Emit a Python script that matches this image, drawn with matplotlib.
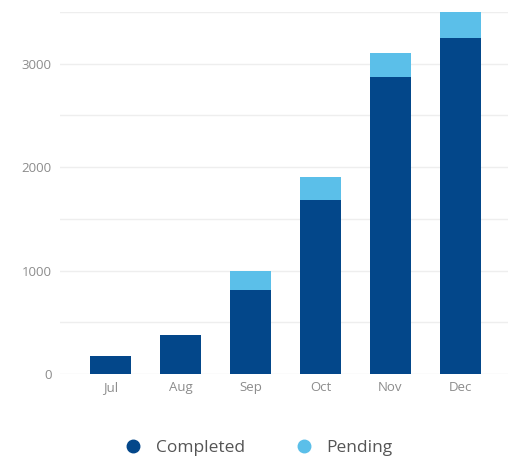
import matplotlib
matplotlib.use("Agg")
import matplotlib.pyplot as plt
from matplotlib.lines import Line2D
import numpy as np

plt.rcParams["font.family"] = ["Open Sans", "DejaVu Sans"]

months = ["Jul", "Aug", "Sep", "Oct", "Nov", "Dec"]
completed = [170, 380, 815, 1680, 2870, 3250]
pending = [0, 0, 185, 220, 230, 250]

COL_DONE = "#03478a"
COL_PEND = "#5bbfe9"
GRID = "#eeeeee"
TEXT = "#8c8c8c"

fig = plt.figure(figsize=(5.08, 4.59), dpi=100)
ax = fig.add_axes([60 / 508, 85 / 459, 448 / 508, 362 / 459])

x = np.arange(len(months))
ax.bar(x, completed, width=0.59, color=COL_DONE, zorder=3)
ax.bar(x, pending, width=0.59, bottom=completed, color=COL_PEND, zorder=3)

ax.set_xlim(-0.72, 5.68)
ax.set_ylim(0, 3500)
ax.set_yticks(np.arange(0, 3501, 500))
ax.set_yticklabels([str(v) if v % 1000 == 0 else "" for v in range(0, 3501, 500)])
ax.grid(axis="y", color=GRID, lw=1, zorder=0)
ax.set_xticks(x)
ax.set_xticklabels(months)
ax.tick_params(axis="both", length=0, colors=TEXT, labelsize=9.5)
ax.tick_params(axis="y", pad=6)
ax.tick_params(axis="x", pad=5)
for s in ax.spines.values():
    s.set_visible(False)

handles = [
    Line2D([], [], marker="o", ls="", ms=9, color=COL_DONE, label="Completed"),
    Line2D([], [], marker="o", ls="", ms=9, color=COL_PEND, label="Pending"),
]
fig.legend(handles=handles, loc="center", bbox_to_anchor=(0.5, 1 - 448 / 459),
           ncol=2, frameon=False, fontsize=12.5, labelcolor="#555555",
           handletextpad=0.3, columnspacing=2.4)

fig.savefig("out.png", dpi=100)
